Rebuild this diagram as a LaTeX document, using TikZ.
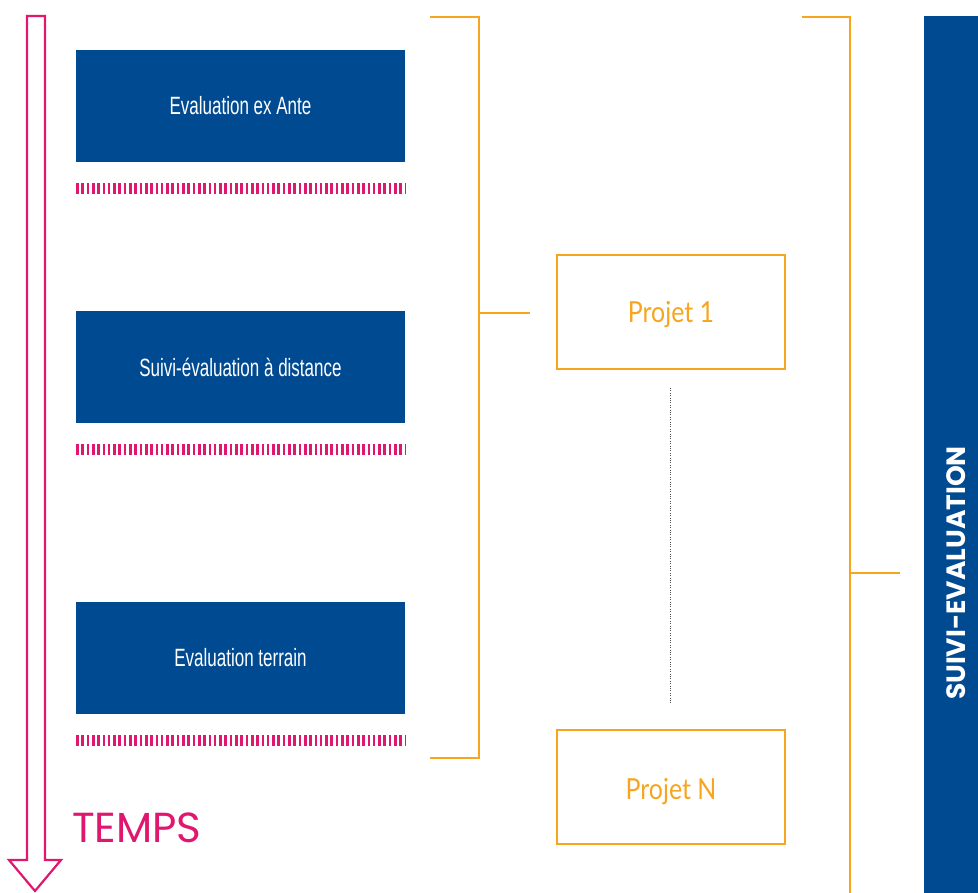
\documentclass[tikz,border=0pt]{standalone}
\usepackage{fontspec}
\setmainfont{Liberation Sans}
\newfontfamily\condfont[FakeStretch=0.68]{Liberation Sans}
\newfontfamily\geofont{Poppins}
\newfontfamily\geobold{Poppins Bold}
\newfontfamily\projfont[FakeStretch=0.86]{Lato}
\definecolor{dblue}{HTML}{004A91}
\definecolor{orng}{HTML}{F7A51E}
\definecolor{pnk}{HTML}{E0176F}
\tikzset{
  bluebox/.style={fill=dblue, draw=none, minimum width=329pt, minimum height=112pt, inner sep=0pt,
     text=white, font=\condfont\fontsize{25}{28}\selectfont},
  stripes/.style={pnk, line width=11pt, dash pattern=on 2.6pt off 2.7pt},
  brack/.style={orng, line width=2.6pt},
  projbox/.style={draw=orng, line width=2.6pt, minimum width=228pt, minimum height=114pt, inner sep=0pt,
     text=orng, font=\projfont\fontsize{29}{32}\selectfont},
}
\begin{document}
\begin{tikzpicture}[x=1pt,y=-1pt]
\useasboundingbox (0,0) rectangle (978,893);
% time arrow
\coordinate (a1) at (27,16);
\coordinate (a2) at (45,16);
\coordinate (a3) at (45,860);
\coordinate (a4) at (61,860);
\coordinate (a5) at (35,891);
\coordinate (a6) at (9,860);
\coordinate (a7) at (27,860);
\draw[pnk, line width=2.2pt, line join=miter] (a1) -- (a2) -- (a3) -- (a4) -- (a5) -- (a6) -- (a7) -- cycle;
\node[anchor=base west, text=pnk, font=\geofont\fontsize{42}{44}\selectfont, inner sep=0pt] (temps) at (72,842) {TEMPS};
% blue boxes
\node[bluebox] (b1) at (240.5,106) {Evaluation ex Ante};
\node[bluebox] (b2) at (240.5,367) {Suivi-évaluation à distance};
\node[bluebox] (b3) at (240.5,658) {Evaluation terrain};
% stripes
\coordinate (s1a) at (76,188.5); \coordinate (s1b) at (406,188.5);
\coordinate (s2a) at (76,449.5); \coordinate (s2b) at (406,449.5);
\coordinate (s3a) at (76,740.5); \coordinate (s3b) at (406,740.5);
\draw[stripes] (s1a) -- (s1b);
\draw[stripes] (s2a) -- (s2b);
\draw[stripes] (s3a) -- (s3b);
% projects
\node[projbox] (p1) at (671,312) {\raisebox{-11pt}[0pt][0pt]{Projet 1}};
\node[projbox] (pn) at (671,787) {\raisebox{-12pt}[0pt][0pt]{Projet N}};
\coordinate (v1) at (670,388);
\coordinate (v2) at (670,703);
\draw[black!70, line width=0.8pt, dash pattern=on 0.8pt off 1.6pt] (v1) -- (v2);
% bracket 1
\coordinate (c1) at (430,17);
\coordinate (c2) at (479,17);
\coordinate (c3) at (479,758);
\coordinate (c4) at (430,758);
\coordinate (c5) at (479,313);
\coordinate (c6) at (530,313);
\draw[brack] (c1) -- (c2) -- (c3) -- (c4);
\draw[brack] (c5) -- (c6);
% bracket 2
\coordinate (d1) at (802,17);
\coordinate (d2) at (850,17);
\coordinate (d3) at (850,893);
\coordinate (d4) at (850,573);
\coordinate (d5) at (900,573);
\draw[brack] (d1) -- (d2) -- (d3);
\draw[brack] (d4) -- (d5);
% right bar
\node[fill=dblue, minimum width=54pt, minimum height=877pt, inner sep=0pt, anchor=north west] (bar) at (924,16) {};
\node[rotate=90, text=white, font=\geobold\fontsize{26.5}{28}\selectfont, inner sep=0pt] (se) at (956,573) {SUIVI-EVALUATION};
\end{tikzpicture}
\end{document}
